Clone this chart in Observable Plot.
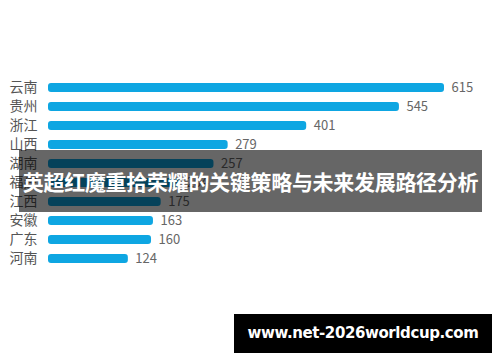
<!DOCTYPE html>
<html>
<head>
<meta charset="utf-8">
<script src="https://cdn.jsdelivr.net/npm/d3@7"></script>
<script src="https://cdn.jsdelivr.net/npm/@observablehq/plot@0.6"></script>
<style>
  html, body { margin: 0; padding: 0; background: #fff; }
  #wrap { position: relative; width: 500px; height: 362px; overflow: hidden; font-family: "Noto Sans CJK SC", "Noto Sans", sans-serif; }
  #banner { position: absolute; left: 19px; top: 150px; width: 463px; height: 62px; background: rgba(0,0,0,0.6);
    color: #fff; font-weight: bold; font-size: 21px; line-height: 62px; text-align: center; white-space: nowrap; letter-spacing: -0.3px; }
  #site { position: absolute; left: 234px; top: 314px; width: 258px; height: 39px; background: #000;
    color: #fff; font-family: "DejaVu Sans", sans-serif; font-weight: bold; font-size: 15px; line-height: 39px; text-align: center; white-space: nowrap; letter-spacing: -0.4px; }
</style>
</head>
<body>
<div id="wrap">
  <div id="chart"></div>
  <div id="banner"></div>
  <div id="site"></div>
</div>
<script>
const provinces = ["云南", "贵州", "浙江", "山西", "湖南", "福建", "江西", "安徽", "广东", "河南"];
const counts = [615, 545, 401, 279, 257, 204, 175, 163, 160, 124];
const bannerText = "英超红魔重拾荣耀的关键策略与未来发展路径分析";
const siteText = "www.net-2026worldcup.com";

const data = provinces.map((p, i) => ({province: p, count: counts[i]}));

const chart = Plot.plot({
  width: 500,
  height: 362,
  marginLeft: 48,
  marginRight: 56,
  marginTop: 75,
  marginBottom: 92,
  style: {fontFamily: "'Noto Sans CJK SC', 'Noto Sans', sans-serif", background: "#fff"},
  x: {domain: [0, 615], axis: null},
  y: {domain: provinces, padding: 0, label: null},
  marks: [
    Plot.barX(data, {x: "count", y: "province", fill: "#0ea6e2", insetTop: 5, insetBottom: 5, rx: 3}),
    Plot.text(data, {x: "count", y: "province", text: d => String(d.count), textAnchor: "start", dx: 7, fontSize: 13, fill: "#666"}),
    Plot.axisY({tickSize: 0, tickPadding: 11, fontSize: 14, color: "#555", label: null})
  ]
});
document.getElementById("chart").appendChild(chart);
document.getElementById("banner").textContent = bannerText;
document.getElementById("site").textContent = siteText;
</script>
</body>
</html>
